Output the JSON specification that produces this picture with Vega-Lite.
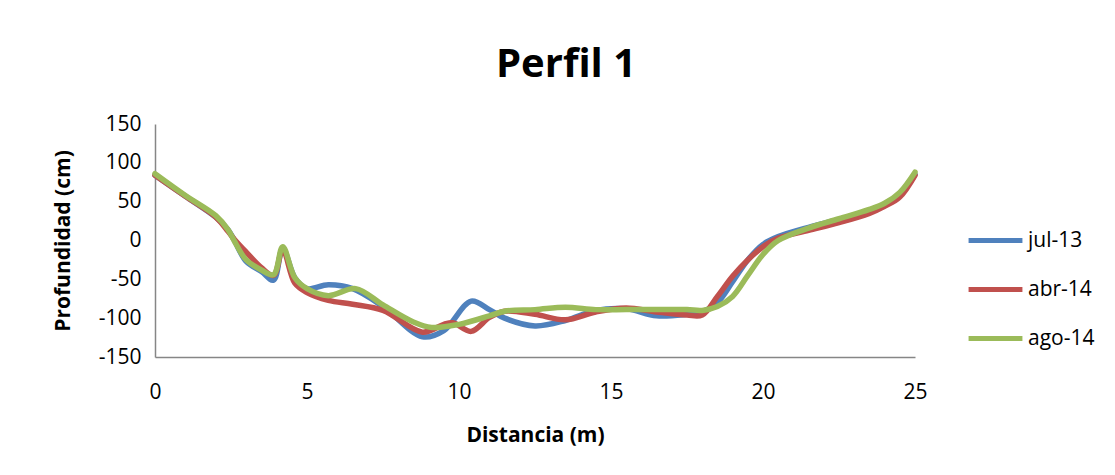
{
  "$schema": "https://vega.github.io/schema/vega-lite/v6.json",
  "autosize": {"type": "none"},
  "width": 760,
  "height": 233,
  "padding": {"left": 155, "top": 124, "right": 200, "bottom": 118},
  "background": "white",
  "config": {
    "view": {"stroke": null},
    "font": "Open Sans"
  },
  "title": {
    "text": "Perfil 1",
    "fontSize": 40,
    "fontWeight": "bold",
    "font": "Open Sans",
    "color": "black",
    "anchor": "middle",
    "dx": 31,
    "offset": -4,
    "baseline": "alphabetic"
  },
  "data": {
    "values": [
      {"s": "jul-13", "d": 0, "p": 84},
      {"s": "jul-13", "d": 1, "p": 57},
      {"s": "jul-13", "d": 2, "p": 30},
      {"s": "jul-13", "d": 2.4, "p": 14},
      {"s": "jul-13", "d": 2.6, "p": 1},
      {"s": "jul-13", "d": 3, "p": -27},
      {"s": "jul-13", "d": 3.5, "p": -40},
      {"s": "jul-13", "d": 3.9, "p": -51},
      {"s": "jul-13", "d": 4.2, "p": -10},
      {"s": "jul-13", "d": 4.6, "p": -48},
      {"s": "jul-13", "d": 5, "p": -62},
      {"s": "jul-13", "d": 5.7, "p": -57},
      {"s": "jul-13", "d": 6.5, "p": -62},
      {"s": "jul-13", "d": 7.5, "p": -85},
      {"s": "jul-13", "d": 8.8, "p": -124},
      {"s": "jul-13", "d": 9.5, "p": -116},
      {"s": "jul-13", "d": 10.4, "p": -78},
      {"s": "jul-13", "d": 11, "p": -89},
      {"s": "jul-13", "d": 11.5, "p": -100},
      {"s": "jul-13", "d": 12.5, "p": -110},
      {"s": "jul-13", "d": 13.5, "p": -103},
      {"s": "jul-13", "d": 14.5, "p": -90},
      {"s": "jul-13", "d": 15.5, "p": -88},
      {"s": "jul-13", "d": 16.5, "p": -97},
      {"s": "jul-13", "d": 17.5, "p": -95},
      {"s": "jul-13", "d": 18, "p": -92},
      {"s": "jul-13", "d": 18.5, "p": -80},
      {"s": "jul-13", "d": 19, "p": -53},
      {"s": "jul-13", "d": 19.5, "p": -25},
      {"s": "jul-13", "d": 20, "p": -5},
      {"s": "jul-13", "d": 20.5, "p": 5},
      {"s": "jul-13", "d": 21.5, "p": 17},
      {"s": "jul-13", "d": 22.5, "p": 27},
      {"s": "jul-13", "d": 23.5, "p": 38},
      {"s": "jul-13", "d": 24, "p": 45},
      {"s": "jul-13", "d": 24.5, "p": 58},
      {"s": "jul-13", "d": 25, "p": 85},
      {"s": "abr-14", "d": 0, "p": 84},
      {"s": "abr-14", "d": 1, "p": 57},
      {"s": "abr-14", "d": 2, "p": 30},
      {"s": "abr-14", "d": 2.4, "p": 12},
      {"s": "abr-14", "d": 2.6, "p": 2},
      {"s": "abr-14", "d": 3, "p": -15},
      {"s": "abr-14", "d": 3.5, "p": -35},
      {"s": "abr-14", "d": 3.9, "p": -45},
      {"s": "abr-14", "d": 4.2, "p": -12},
      {"s": "abr-14", "d": 4.6, "p": -55},
      {"s": "abr-14", "d": 5, "p": -67},
      {"s": "abr-14", "d": 5.7, "p": -77},
      {"s": "abr-14", "d": 6.5, "p": -82},
      {"s": "abr-14", "d": 7.5, "p": -90},
      {"s": "abr-14", "d": 8.8, "p": -118},
      {"s": "abr-14", "d": 9.5, "p": -108},
      {"s": "abr-14", "d": 9.8, "p": -106},
      {"s": "abr-14", "d": 10.4, "p": -117},
      {"s": "abr-14", "d": 11, "p": -99},
      {"s": "abr-14", "d": 11.5, "p": -91},
      {"s": "abr-14", "d": 12.5, "p": -95},
      {"s": "abr-14", "d": 13.5, "p": -102},
      {"s": "abr-14", "d": 14.5, "p": -92},
      {"s": "abr-14", "d": 15.5, "p": -87},
      {"s": "abr-14", "d": 16.5, "p": -92},
      {"s": "abr-14", "d": 17.5, "p": -96},
      {"s": "abr-14", "d": 18, "p": -96},
      {"s": "abr-14", "d": 18.5, "p": -72},
      {"s": "abr-14", "d": 19, "p": -46},
      {"s": "abr-14", "d": 19.5, "p": -25},
      {"s": "abr-14", "d": 20, "p": -8},
      {"s": "abr-14", "d": 20.5, "p": 3},
      {"s": "abr-14", "d": 21.5, "p": 13},
      {"s": "abr-14", "d": 22.5, "p": 23},
      {"s": "abr-14", "d": 23.5, "p": 35},
      {"s": "abr-14", "d": 24, "p": 44},
      {"s": "abr-14", "d": 24.5, "p": 56},
      {"s": "abr-14", "d": 25, "p": 84},
      {"s": "ago-14", "d": 0, "p": 86},
      {"s": "ago-14", "d": 1, "p": 58},
      {"s": "ago-14", "d": 2, "p": 32},
      {"s": "ago-14", "d": 2.4, "p": 14},
      {"s": "ago-14", "d": 2.6, "p": 0},
      {"s": "ago-14", "d": 3, "p": -25},
      {"s": "ago-14", "d": 3.5, "p": -38},
      {"s": "ago-14", "d": 3.9, "p": -44},
      {"s": "ago-14", "d": 4.2, "p": -8},
      {"s": "ago-14", "d": 4.6, "p": -48},
      {"s": "ago-14", "d": 5, "p": -62},
      {"s": "ago-14", "d": 5.7, "p": -71},
      {"s": "ago-14", "d": 6.6, "p": -62},
      {"s": "ago-14", "d": 7.5, "p": -83},
      {"s": "ago-14", "d": 8.5, "p": -105},
      {"s": "ago-14", "d": 9.1, "p": -112},
      {"s": "ago-14", "d": 10, "p": -108},
      {"s": "ago-14", "d": 11, "p": -97},
      {"s": "ago-14", "d": 11.5, "p": -91},
      {"s": "ago-14", "d": 12.5, "p": -89},
      {"s": "ago-14", "d": 13.5, "p": -86},
      {"s": "ago-14", "d": 14.5, "p": -89},
      {"s": "ago-14", "d": 15.5, "p": -89},
      {"s": "ago-14", "d": 16.5, "p": -89},
      {"s": "ago-14", "d": 17.5, "p": -89},
      {"s": "ago-14", "d": 18, "p": -90},
      {"s": "ago-14", "d": 18.5, "p": -85},
      {"s": "ago-14", "d": 19, "p": -72},
      {"s": "ago-14", "d": 19.5, "p": -45},
      {"s": "ago-14", "d": 20, "p": -18},
      {"s": "ago-14", "d": 20.5, "p": 0},
      {"s": "ago-14", "d": 21.5, "p": 16},
      {"s": "ago-14", "d": 22.5, "p": 28},
      {"s": "ago-14", "d": 23.5, "p": 40},
      {"s": "ago-14", "d": 24, "p": 48},
      {"s": "ago-14", "d": 24.5, "p": 62},
      {"s": "ago-14", "d": 25, "p": 88}
    ]
  },
  "mark": {"type": "line", "interpolate": "catmull-rom", "strokeWidth": 5.5, "strokeCap": "round"},
  "encoding": {
    "x": {
      "field": "d", "type": "quantitative",
      "scale": {"domain": [0, 25], "nice": false, "zero": false},
      "axis": {
        "title": "Distancia (m)", "values": [0, 5, 10, 15, 20, 25],
        "ticks": false, "grid": false, "domainColor": "#868686", "domainWidth": 1.5,
        "labelFont": "Open Sans", "labelFontSize": 21, "labelColor": "black", "labelPadding": 24,
        "labelFlush": false,
        "titleFont": "Open Sans", "titleFontSize": 21, "titleFontWeight": "bold", "titleColor": "black", "titlePadding": 22
      }
    },
    "y": {
      "field": "p", "type": "quantitative",
      "scale": {"domain": [-150, 150], "nice": false, "zero": false},
      "axis": {
        "title": "Profundidad (cm)", "values": [-150, -100, -50, 0, 50, 100, 150],
        "labelExpr": "'' + datum.value",
        "ticks": false, "grid": false, "domainColor": "#868686", "domainWidth": 1.5,
        "labelFont": "Open Sans", "labelFontSize": 21, "labelColor": "black", "labelPadding": 14,
        "labelFlush": false,
        "titleFont": "Open Sans", "titleFontSize": 21, "titleFontWeight": "bold", "titleColor": "black", "titlePadding": 25
      }
    },
    "color": {
      "field": "s", "type": "nominal",
      "scale": {"domain": ["jul-13", "abr-14", "ago-14"], "range": ["#4F81BD", "#C0504D", "#9BBB59"]},
      "legend": {
        "title": null, "orient": "none", "legendX": 811, "legendY": 87,
        "symbolType": "stroke", "symbolSize": 2900, "symbolStrokeWidth": 5,
        "labelFont": "Open Sans", "labelFontSize": 21, "labelColor": "black", "labelOffset": 3,
        "rowPadding": 9
      }
    }
  }
}
